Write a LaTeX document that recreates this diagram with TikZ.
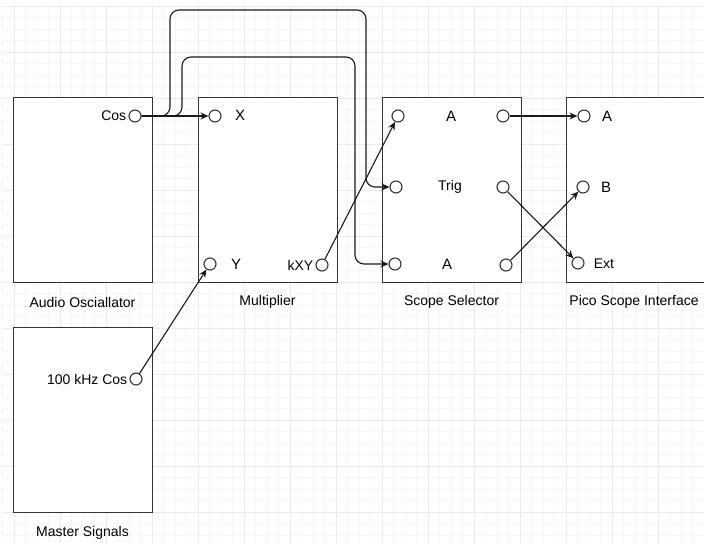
\documentclass[tikz,border=0pt]{standalone}
\usepackage{fontspec}
\setmainfont{Liberation Sans}
\usetikzlibrary{arrows.meta}
\definecolor{gridminor}{HTML}{F6F6F6}
\definecolor{gridmajor}{HTML}{EBEBEB}
\definecolor{edge}{HTML}{333333}
\begin{document}
\begin{tikzpicture}[x=1pt,y=-1pt,
    box/.style={draw=edge,line width=1.2pt,fill=white,anchor=north west,
      minimum width=139pt,minimum height=185pt,inner sep=0pt},
    port/.style={circle,draw=edge,line width=1.1pt,fill=white,
      minimum size=12pt,inner sep=0pt},
    lbl/.style={font=\fontsize{14}{16}\selectfont,inner sep=2pt},
    letter/.style={font=\fontsize{15}{18}\selectfont,inner sep=0pt},
    wire/.style={draw=black!90,line width=1.1pt,-{Stealth[length=8pt,width=7pt]}}]
  \useasboundingbox (0,0) rectangle (704,543);
  % grid
  \foreach \i in {-1,...,60}
    \draw[gridminor,line width=0.6pt] ({14+11.5*\i},6) -- ({14+11.5*\i},543);
  \foreach \i in {0,...,47}
    \draw[gridminor,line width=0.6pt] (2.5,{6+11.5*\i}) -- (704,{6+11.5*\i});
  \foreach \i in {0,...,15}
    \draw[gridmajor,line width=0.7pt] ({14+46*\i},6) -- ({14+46*\i},543);
  \foreach \i in {0,...,11}
    \draw[gridmajor,line width=0.7pt] (2.5,{6+46*\i}) -- (704,{6+46*\i});

  % boxes
  \node[box] (audio) at (13,97) {};
  \node[box] (master) at (13,327) {};
  \node[box] (mult) at (198,97) {};
  \node[box] (selector) at (382,97) {};
  \node[box] (pico) at (566,97) {};
  \node[lbl] at (82.5,302) {Audio Osciallator};
  \node[lbl] at (82.5,533) {Master Signals};
  \node[lbl] at (267.5,302) {Multiplier};
  \node[lbl] at (451.5,302) {Scope Selector};
  \node[lbl] at (634,302) {Pico Scope Interface};

  % ports
  \node[port] (cos) at (135,116) {};
  \node[port] (khz) at (136,379) {};
  \node[port] (xin) at (215,116) {};
  \node[port] (yin) at (210,264) {};
  \node[port] (kxy) at (322,265) {};
  \node[port] (ain) at (398,116) {};
  \node[port] (trigin) at (396,187) {};
  \node[port] (bin) at (395,264) {};
  \node[port] (aout) at (503,116) {};
  \node[port] (trigout) at (503,187) {};
  \node[port] (bout) at (506,265) {};
  \node[port] (picoa) at (584,116) {};
  \node[port] (picob) at (583,187) {};
  \node[port] (picoext) at (578,263) {};

  % port labels
  \node[lbl,anchor=east] at (cos.west) {Cos};
  \node[lbl,anchor=east] at (khz.west) {100 kHz Cos};
  \node[lbl,anchor=east] at (kxy.west) {kXY};
  \node[letter] at (240,115) {X};
  \node[letter] at (236,264) {Y};
  \node[letter] at (451,116) {A};
  \node[lbl] at (450,187) {Trig};
  \node[letter] at (447,264) {A};
  \node[letter] at (607,116) {A};
  \node[letter] at (606,187) {B};
  \node[lbl] at (604,264) {Ext};

  % connections
  \draw[wire] (cos) -- (xin);
  \draw[wire,rounded corners=9pt] (cos.east) -| (170,10) -| (366,187) -- (trigin);
  \draw[wire,rounded corners=9pt] (cos.east) -| (182,57) -| (355,264) -- (bin);
  \draw[wire] (khz) -- (yin);
  \draw[wire] (kxy) -- (ain);
  \draw[wire] (aout) -- (picoa);
  \draw[wire] (trigout) -- (picoext);
  \draw[wire] (bout) -- (picob);
\end{tikzpicture}
\end{document}
